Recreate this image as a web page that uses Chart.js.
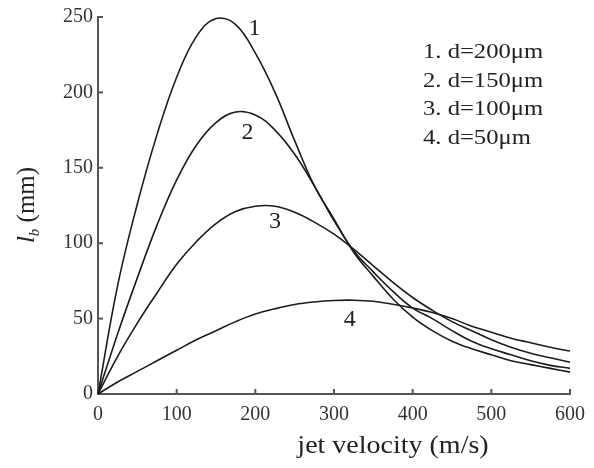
<!DOCTYPE html>
<html>
<head>
<meta charset="utf-8">
<script src="https://cdn.jsdelivr.net/npm/chart.js@4.4.1/dist/chart.umd.min.js"></script>
<style>
html,body{margin:0;padding:0;background:#fff;}
#wrap{width:594px;height:468px;position:relative;}
</style>
</head>
<body>
<div id="wrap"><canvas id="c"></canvas></div>
<script>
// jet velocity (m/s)
const velocity = [0,25,50,75,100,125,150,175,200,225,250,275,300,325,350,375,400,425,450,475,500,525,550,575,600];
// breakup length l_b (mm) for each nozzle diameter
const d200 = [0,72,126,172,210,237,249,245,226,200,168,138,116,94,78,63,51,42,35,30,26,22,19.5,17,14.5];
const d150 = [0,40,77,112,142,165,180,187,185,175,159,138,115,95,81,68,57,50,42,35,30,26,22,19,17];
const d100 = [0,25,47,67,86,101,113,121,124.5,124.5,120.5,114,106,96,85,74,64,55.5,48,42,36,31,27,24,21];
const d50  = [0,8,15,22,29,36,42,48,53,56.5,59.3,61,62,62.2,61.5,59.5,57,54,50,45,41,37,34,31,28.5];

const seriesNames = ['1','2','3','4'];
const legendLines = ['1. d=200\u03bcm','2. d=150\u03bcm','3. d=100\u03bcm','4. d=50\u03bcm'];
// curve number labels placed at data coordinates
const labelX = [199,190,225,320];
const labelY = [242,173,114,49];
const xTicks = [0,100,200,300,400,500,600];
const yTicks = [0,50,100,150,200,250];

const SERIF = '"Liberation Serif", "Times New Roman", serif';
const toPts = arr => velocity.map((v,i)=>({x:v,y:arr[i]}));
const mk = (arr,name) => ({label:name,data:toPts(arr),borderColor:'#1c1c1c',borderWidth:1.6,pointRadius:0,fill:false,tension:0.4,clip:false});

function stretchedText(ctx, text, x, y, sx, align){
  ctx.save();
  const w = ctx.measureText(text).width*sx;
  let left = x;
  if(align==='center') left = x - w/2;
  ctx.translate(left, y);
  ctx.scale(sx,1);
  ctx.textAlign='left';
  ctx.fillText(text,0,0);
  ctx.restore();
}

const overlay = {
  id:'overlay',
  afterDraw(chart){
    const ctx = chart.ctx, xs = chart.scales.x, ys = chart.scales.y;
    const a = chart.chartArea;
    ctx.save();
    // inward tick marks
    ctx.strokeStyle = '#555'; ctx.lineWidth = 2;
    xTicks.forEach(v=>{ if(v===0) return; const p = xs.getPixelForValue(v);
      ctx.beginPath(); ctx.moveTo(p,a.bottom); ctx.lineTo(p,a.bottom-5); ctx.stroke(); });
    yTicks.forEach(v=>{ if(v===0) return; const p = ys.getPixelForValue(v);
      ctx.beginPath(); ctx.moveTo(a.left,p); ctx.lineTo(a.left+5,p); ctx.stroke(); });
    // curve numbers
    ctx.fillStyle = '#222';
    ctx.font = '24px ' + SERIF;
    ctx.textAlign = 'center'; ctx.textBaseline = 'middle';
    seriesNames.forEach((n,i)=>{
      ctx.fillText(n, xs.getPixelForValue(labelX[i]), ys.getPixelForValue(labelY[i]));
    });
    // legend text
    ctx.font = '22px ' + SERIF;
    ctx.textBaseline = 'alphabetic';
    legendLines.forEach((t,i)=>{ stretchedText(ctx, t, 423, 58 + i*28.5, 1.12, 'left'); });
    // x axis title
    ctx.font = '25px ' + SERIF;
    stretchedText(ctx, 'jet velocity (m/s)', 393, 453, 1.12, 'center');
    // y axis title: italic l with subscript b, then (mm)
    ctx.translate(34, 205);
    ctx.rotate(-Math.PI/2);
    const f1 = 'italic 25px ' + SERIF, f2 = 'italic 15px ' + SERIF, f3 = '25px ' + SERIF;
    ctx.font = f1; const w1 = ctx.measureText('l').width;
    ctx.font = f2; const w2 = ctx.measureText('b').width;
    ctx.font = f3; const w3 = ctx.measureText(' (mm)').width;
    let x0 = -(w1+w2+w3)/2;
    ctx.textAlign = 'left';
    ctx.font = f1; ctx.fillText('l', x0, 0); x0 += w1;
    ctx.font = f2; ctx.fillText('b', x0, 5); x0 += w2;
    ctx.font = f3; ctx.fillText(' (mm)', x0, 0);
    ctx.restore();
  }
};

new Chart(document.getElementById('c'), {
  type:'line',
  data:{datasets:[mk(d200,'d=200'),mk(d150,'d=150'),mk(d100,'d=100'),mk(d50,'d=50')]},
  options:{
    responsive:true, maintainAspectRatio:false, animation:false,
    layout:{padding:{top:15,right:18,left:0,bottom:0}},
    plugins:{legend:{display:false},tooltip:{enabled:false}},
    scales:{
      x:{type:'linear',min:0,max:600,
        afterFit(s){s.height=74;},
        afterBuildTicks(s){s.ticks = xTicks.map(v=>({value:v}));},
        grid:{display:false,drawTicks:false},
        border:{display:true,color:'#555',width:2},
        ticks:{font:{family:SERIF,size:20},color:'#333',padding:9,maxRotation:0}},
      y:{type:'linear',min:0,max:250,
        afterFit(s){s.width=98;},
        afterBuildTicks(s){s.ticks = yTicks.map(v=>({value:v}));},
        grid:{display:false,drawTicks:false},
        border:{display:true,color:'#555',width:2},
        ticks:{font:{family:SERIF,size:20},color:'#333',padding:5}}
    }
  },
  plugins:[overlay]
});
</script>
</body>
</html>
